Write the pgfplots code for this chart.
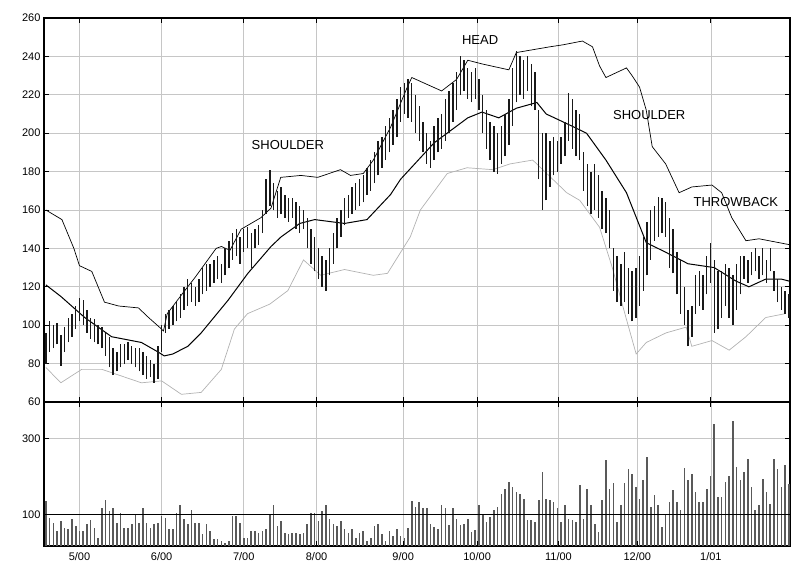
\documentclass[border=0pt]{standalone}
\usepackage{pgfplots}
\pgfplotsset{compat=1.18}
\usepackage{pgfplotstable}
\usepackage{fontspec}
\setmainfont{Liberation Sans}

% daily high/low bars (x = trading day index)
\pgfplotstableread{
i lo hi
0 80 96
1 86 102
2 88 100
3 90 101
4 79 95
5 86 99
6 91 104
7 94 106
8 98 110
9 102 114
10 100 113
11 96 108
12 93 104
13 91 103
14 90 100
15 88 99
16 84 96
17 78 94
18 74 88
19 76 86
20 78 90
21 80 90
22 82 91
23 80 89
24 78 88
25 76 88
26 74 86
27 72 84
28 73 82
29 70 80
30 72 89
31 86 100
32 96 106
33 98 108
34 100 110
35 102 112
36 104 116
37 108 120
38 110 124
39 112 122
40 110 120
41 112 124
42 116 130
43 118 132
44 120 132
45 122 134
46 124 136
47 122 132
48 126 140
49 130 144
50 134 148
51 136 150
52 132 146
53 138 150
54 140 151
55 130 148
56 140 150
57 142 152
58 148 160
59 158 176
60 162 181
61 160 174
62 156 170
63 158 172
64 156 168
65 154 166
66 156 166
67 150 164
68 148 162
69 150 160
70 140 156
71 132 150
72 128 146
73 124 140
74 120 136
75 118 134
76 126 140
77 132 148
78 140 156
79 146 160
80 152 166
81 156 168
82 158 172
83 160 174
84 162 176
85 164 178
86 168 182
87 170 186
88 174 190
89 178 196
90 182 198
91 186 204
92 190 208
93 194 212
94 198 218
95 206 224
96 210 226
97 208 228
98 206 226
99 200 220
100 196 214
101 190 206
102 184 200
103 182 196
104 186 204
105 190 208
106 192 210
107 196 218
108 200 222
109 206 226
110 212 232
111 220 240
112 222 238
113 218 234
114 216 232
115 218 234
116 212 228
117 200 220
118 192 212
119 186 206
120 180 204
121 179 200
122 184 204
123 188 210
124 194 218
125 204 234
126 216 243
127 220 240
128 218 238
129 222 240
130 214 236
131 212 232
132 176 212
133 160 200
134 165 200
135 172 196
136 178 198
137 180 196
138 184 198
139 188 206
140 196 221
141 192 218
142 188 212
143 186 210
144 170 190
145 162 184
146 158 180
147 160 184
148 156 178
149 150 170
150 148 166
151 140 160
152 118 140
153 112 136
154 110 132
155 112 138
156 106 130
157 102 128
158 104 130
159 110 136
160 118 146
161 126 154
162 134 160
163 144 162
164 146 167
165 148 166
166 146 164
167 130 156
168 127 150
169 116 138
170 106 134
171 100 120
172 89 108
173 94 110
174 106 126
175 110 128
176 108 126
177 116 136
178 122 143
179 96 134
180 98 128
181 104 128
182 110 132
183 104 130
184 100 126
185 108 132
186 116 136
187 124 136
188 122 134
189 126 138
190 128 140
191 124 136
192 126 140
193 122 134
194 128 140
195 118 128
196 112 124
197 108 120
198 106 118
199 104 116
}\bars

% daily volume
\pgfplotstableread{
i v
0 135
1 91
2 78
3 56
4 83
5 65
6 61
7 89
8 69
9 56
10 56
11 74
12 86
13 65
14 39
15 117
16 139
17 109
18 117
19 78
20 104
21 65
22 65
23 74
24 100
25 78
26 117
27 78
28 65
29 74
30 78
31 96
32 91
33 61
34 61
35 104
36 126
37 87
38 74
39 113
40 78
41 78
42 48
43 74
44 56
45 35
46 35
47 30
48 26
49 30
50 96
51 96
52 78
53 39
54 39
55 56
56 56
57 52
58 56
59 61
60 100
61 124
62 69
63 83
64 52
65 48
66 52
67 52
68 48
69 52
70 74
71 104
72 104
73 83
74 109
75 124
76 87
77 74
78 69
79 83
80 61
81 52
82 61
83 39
84 52
85 56
86 30
87 39
88 69
89 74
90 48
91 30
92 56
93 43
94 61
95 43
96 39
97 65
98 137
99 120
100 133
101 116
102 116
103 76
104 68
105 63
106 126
107 116
108 72
109 116
110 89
111 72
112 76
113 89
114 54
115 59
116 126
117 98
118 81
119 94
120 111
121 120
122 155
123 168
124 186
125 173
126 160
127 155
128 142
129 85
130 85
131 81
132 138
133 212
134 142
135 138
136 133
137 116
138 81
139 125
140 89
141 85
142 81
143 179
144 89
145 168
146 125
147 76
148 54
149 138
150 243
151 168
152 182
153 81
154 125
155 182
156 221
157 208
158 173
159 142
160 190
161 252
162 120
163 151
164 125
165 68
166 98
167 133
168 164
169 133
170 111
171 223
172 190
173 208
174 160
175 133
176 133
177 168
178 203
179 339
180 146
181 146
182 186
183 203
184 348
185 225
186 190
187 212
188 247
189 173
190 111
191 125
192 195
193 160
194 129
195 247
196 221
197 173
198 230
199 180
}\vol

\pgfplotsset{
  panel/.style={
    scale only axis, width=746pt,
    xmin=-0.5, xmax=199.3,
    xtick={9,31,53,72.5,95.7,115.5,137.3,158.4,178.1},
    tick align=inside, major tick length=5pt,
    tick style={black, line width=0.8pt},
    axis line style={line width=1.3pt},
    grid=major, grid style={gray!45, line width=0.6pt},
    ticklabel style={font=\fontsize{11}{13}\selectfont},
    xticklabel style={yshift=-3pt},
    /pgf/number format/assume math mode=true,
  },
}

\begin{document}
\begin{tikzpicture}
\useasboundingbox (0pt,0pt) rectangle (793pt,-569pt);

\begin{axis}[panel, at={(44pt,-18pt)}, anchor=north west, height=384pt,
  ymin=60, ymax=260, ytick={60,80,...,260}, xticklabels={}]
  % upper band
  \addplot[black, line width=0.7pt] coordinates {
    (0,160) (4.3,155) (7.5,140) (9,131) (12.3,128) (14,120) (15.7,112) (19.5,110)
    (24.8,109) (27.5,104) (30.4,99) (31.5,97) (32.5,106) (36.8,117) (40,125)
    (45.6,140) (47,141) (49.3,139) (52.3,150) (57.6,156) (60.3,161) (62.9,177)
    (68.3,178) (72.8,177) (78.9,181) (81.6,178) (85,179) (87.7,186) (92.3,203)
    (96.8,224) (98,229) (106,222) (110,228) (113,238) (117,236) (124,233)
    (126,242) (135,245) (138.4,246) (143.7,248) (146.4,245) (148.3,235)
    (150,229) (155.5,234) (157,230) (159,224) (160.8,212) (162.4,193) (166,184)
    (169.6,169) (173,172) (178.4,173) (181,169) (183.7,156) (187.5,144)
    (191,145) (199,142)};
  % middle band
  \addplot[black, line width=1pt] coordinates {
    (0,121) (4,115) (10.4,104) (17.6,94) (25.6,91) (30.1,86) (31.7,84) (34,85)
    (38,89) (41.6,96) (48.8,113) (54.1,127) (60.3,141) (63,146) (68,153)
    (72,155) (80,153) (86,155) (92.3,168) (95,176) (104,195) (113,208)
    (116.8,211) (121.3,208) (126,213) (131.5,216) (134,210) (139.5,205)
    (144.8,200) (150,186) (155.5,169) (160.8,143) (166,138) (172,132) (179,130)
    (184.8,123) (188.3,120) (192.8,124) (197,124) (199,123)};
  % lower band
  \addplot[gray!60, line width=0.7pt] coordinates {
    (0,78) (4,70) (9.6,77) (15,77) (25.6,70) (31,71) (36.3,64) (41.6,65) (47,77)
    (50.5,98) (54,106) (60,111) (64.8,118) (69,134) (73.6,126) (80,129)
    (87.7,126) (91.5,127) (97.6,146) (100.3,160) (107.5,179) (112.8,182)
    (119.7,181) (124.3,184) (130.4,186) (139.5,169) (143,165) (148.3,151)
    (151.7,130) (155.5,103) (158.1,85) (160.8,91) (166.1,96) (171.5,99) (173,89)
    (178.4,92) (183,87) (187.5,94) (192.8,104) (198,106)};
  % high-low bars
  \addplot[draw=none, error bars/.cd, y dir=plus, y explicit, error mark=none,
    error bar style={draw=black!90, line width=1.4pt}]
    table[x=i, y=lo, y error expr=\thisrow{hi}-\thisrow{lo}] {\bars};
  \node[font=\fontsize{13}{15}\selectfont] at (axis cs:64.8,194) {SHOULDER};
  \node[font=\fontsize{13}{15}\selectfont] at (axis cs:116.3,248.5) {HEAD};
  \node[font=\fontsize{13}{15}\selectfont] at (axis cs:161.6,209.5) {SHOULDER};
  \node[font=\fontsize{13}{15}\selectfont] at (axis cs:184.8,164) {THROWBACK};
\end{axis}

\begin{axis}[panel, at={(44pt,-402pt)}, anchor=north west, height=144pt,
  ymin=17, ymax=397, ytick={100,300},
  xticklabels={5/00,6/00,7/00,8/00,9/00,10/00,11/00,12/00,1/01}]
  \addplot[ycomb, black!65, line width=1.6pt] table[x=i, y=v] {\vol};
  \addplot[black, line width=0.9pt] coordinates {(-0.5,100) (199.3,100)};
\end{axis}
\end{tikzpicture}
\end{document}
